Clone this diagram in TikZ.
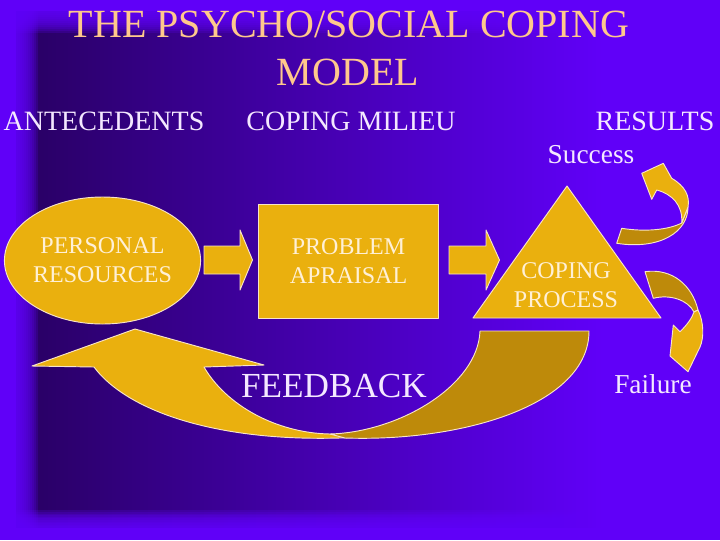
\documentclass[tikz,border=0pt]{standalone}
\usepackage{fontspec}
\setmainfont{Liberation Serif}
\usetikzlibrary{shapes.geometric,calc}
\definecolor{bgbright}{RGB}{96,0,248}
\definecolor{bgdark}{RGB}{42,0,104}
\definecolor{gold}{RGB}{234,176,14}
\definecolor{darkgold}{RGB}{190,138,10}
\definecolor{edgec}{RGB}{248,228,200}
\definecolor{titlec}{RGB}{255,200,140}
\definecolor{headc}{RGB}{244,232,255}
\definecolor{inc}{RGB}{255,240,214}
\tikzset{
  goldshape/.style={fill=gold,draw=edgec,line width=0.7pt,line join=round},
  darkshape/.style={fill=darkgold,draw=edgec,line width=0.7pt,line join=round},
  intext/.style={text=inc,align=center,font=\fontsize{18}{21.75}\selectfont},
  headtext/.style={text=headc,anchor=base,font=\fontsize{21}{25}\selectfont},
  titletext/.style={text=titlec,anchor=base,font=\fontsize{30}{36}\selectfont},
}
\begin{document}
\begin{tikzpicture}[x=0.75pt,y=-0.75pt]
\useasboundingbox (0,0) rectangle (720,540);
% background
\fill[bgbright] (0,0) rectangle (720,540);
\foreach \k in {0,...,145}{
  \pgfmathsetmacro\xa{16+4*\k}
  \pgfmathsetmacro\pp{max(0,min(100,100*(1-(\xa-40)/560)))}
  \fill[bgdark!\pp!bgbright] (\xa,11) rectangle (\xa+4.6,528);
}
\foreach \j in {0,...,11}{
  \fill[bgbright,fill opacity=0.2] (0,0) rectangle (720,11+2*\j);
  \fill[bgbright,fill opacity=0.2] (0,528-1.6*\j) rectangle (720,540);
  \fill[bgbright,fill opacity=0.2] (0,0) rectangle (16+2*\j,540);
}
% title
\node[titletext] (t1) at (349,37) {THE PSYCHO/SOCIAL COPING};
\node[titletext] (t2) at (348,85) {MODEL};
% headers
\node[headtext] (h1) at (104,130) {ANTECEDENTS};
\node[headtext] (h2) at (351,130) {COPING MILIEU};
\node[headtext] (h3) at (655,130) {RESULTS};
\node[headtext,font=\fontsize{20.5}{24}\selectfont] (succ) at (591,163) {Success};
\node[headtext,font=\fontsize{20.5}{24}\selectfont] (fail) at (653,393) {Failure};
% feedback arrow
\path[goldshape] (135,329) -- (264,365) -- (204,367)
  .. controls (226,405) and (276,433) .. (330,434) -- (362,437)
  .. controls (230,445) and (130,415) .. (94,367) -- (32,366) -- cycle;
\path[darkshape] (480,331) -- (589,331)
  .. controls (589,405) and (462,442) .. (345,438) -- (330,434)
  .. controls (400,432) and (478,385) .. (480,331) -- cycle;
\node[headtext,font=\fontsize{26.4}{30}\selectfont] (fb) at (334,397) {FEEDBACK};
% main shapes
\node[goldshape,ellipse,intext,inner sep=0pt,minimum width=143.25pt,minimum height=95.25pt] (pr) at (102.5,260.5) {PERSONAL\\RESOURCES};
\node[goldshape,rectangle,intext,minimum width=135pt,minimum height=85.5pt] (pa) at (348.5,261) {PROBLEM\\APRAISAL};
\coordinate (tA) at (567,186);
\coordinate (tB) at (473,318);
\coordinate (tC) at (661,318);
\path[goldshape] (tA) -- (tC) -- (tB) -- cycle;
\node[intext] (cp) at (566,285.5) {COPING\\PROCESS};
% block arrows
\path[goldshape] (204,246) -- (240,246) -- (240,230) -- (252.5,260) -- (240,290) -- (240,274) -- (204,274) -- cycle;
\path[goldshape] (449,246) -- (486,246) -- (486,230) -- (499.5,260) -- (486,290) -- (486,274) -- (449,274) -- cycle;
% success arrow
\path[darkshape] (621.7,228.3) .. controls (645,232) and (668,230) .. (681.7,223) -- (688,207)
  .. controls (688,232) and (660,250) .. (616.7,243.3) -- cycle;
\path[goldshape] (681.7,223) .. controls (683,205) and (672,194) .. (656.7,190) -- (651.7,199.3)
  -- (641.7,173.3) -- (663.3,163.3) -- (671.7,178.3)
  .. controls (685,186) and (690,196) .. (688,207) -- cycle;
% failure arrow
\path[darkshape] (645,271.7) .. controls (672,268) and (692,285) .. (698,310) -- (694,312)
  .. controls (688,300) and (670,294) .. (653.3,298.3) -- cycle;
\path[goldshape] (698,310) .. controls (704,322) and (704,338) .. (700,347) -- (688,371.7)
  -- (670,356) -- (673.3,325) -- (680,331.7) .. controls (687,325) and (692,318) .. (694,312) -- cycle;
\end{tikzpicture}
\end{document}
